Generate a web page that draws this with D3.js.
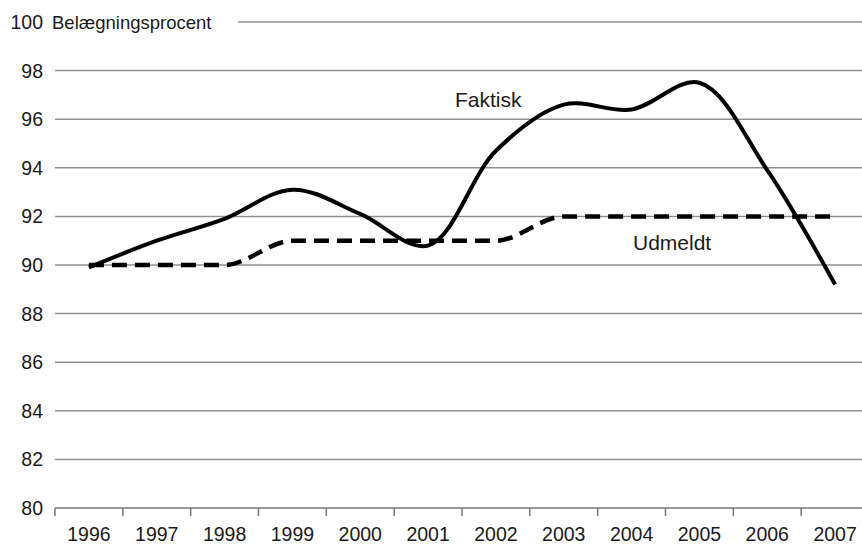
<!DOCTYPE html>
<html><head><meta charset="utf-8">
<script src="https://cdn.jsdelivr.net/npm/d3@7"></script>
<style>body{margin:0;background:#fff}svg text{font-family:"Liberation Sans",Arial,sans-serif;fill:#1a1a1a}</style>
</head><body><svg id="c" width="862" height="545"></svg>
<script>
const years = ["1996","1997","1998","1999","2000","2001","2002","2003","2004","2005","2006","2007"];
const faktisk = [89.9, 91.0, 91.9, 93.1, 92.1, 90.8, 94.7, 96.6, 96.4, 97.5, 93.9, 89.2];
const udmeldt = [90, 90, 90, 91, 91, 91, 91, 92, 92, 92, 92, 92];
const yTicks = [80, 82, 84, 86, 88, 90, 92, 94, 96, 98, 100];
const yTitle = "Belægningsprocent";

const svg = d3.select("#c");
const x = d3.scaleBand().domain(years).range([55, 869]);
const y = d3.scaleLinear().domain([80, 100]).range([508, 22]);
const cx = d => x(d) + x.bandwidth() / 2;

// gridlines
svg.append("g").selectAll("line").data(yTicks.filter(t => t > 80)).join("line")
  .attr("x1", d => d === 100 ? 238 : 55).attr("x2", 862)
  .attr("y1", d => y(d)).attr("y2", d => y(d))
  .attr("stroke", "#8f8f8f").attr("stroke-width", 1.5);

// y labels
svg.append("g").selectAll("text").data(yTicks).join("text")
  .attr("x", 43).attr("y", d => y(d)).attr("dy", "0.36em")
  .attr("text-anchor", "end").attr("font-size", 19.5).text(d => d);
svg.append("text").attr("x", 52).attr("y", y(100)).attr("dy", "0.36em")
  .attr("font-size", 18.5).text(yTitle);

// x axis
const xa = svg.append("g").attr("transform", `translate(0,${y(80)})`)
  .call(d3.axisBottom(x).tickSize(0).tickPadding(18));
xa.select(".domain").attr("d", `M55,0H862`).attr("stroke", "#777").attr("stroke-width", 1.5);
xa.selectAll(".tick text").attr("font-size", 19.5).attr("fill", "#1a1a1a")
  .attr("font-family", '"Liberation Sans",Arial,sans-serif')
  .attr("y", 33).attr("dy", 0);
const bounds = years.map(d => x(d));
xa.append("g").selectAll("line").data(bounds).join("line")
  .attr("x1", d => d).attr("x2", d => d).attr("y1", 0).attr("y2", 8)
  .attr("stroke", "#777").attr("stroke-width", 1.5);

// lines
const lineF = d3.line().x((d, i) => cx(years[i])).y(d => y(d)).curve(d3.curveCatmullRom.alpha(0.5));
const lineU = d3.line().x((d, i) => cx(years[i])).y(d => y(d)).curve(d3.curveMonotoneX);
svg.append("path").attr("d", lineU(udmeldt)).attr("fill", "none").attr("stroke", "#000")
  .attr("stroke-width", 4.5).attr("stroke-dasharray", "15,8");
svg.append("path").attr("d", lineF(faktisk)).attr("fill", "none").attr("stroke", "#000")
  .attr("stroke-width", 4);

svg.append("text").attr("x", 455).attr("y", 107).attr("font-size", 21).text("Faktisk");
svg.append("text").attr("x", 633).attr("y", 250).attr("font-size", 21).text("Udmeldt");
</script></body></html>
